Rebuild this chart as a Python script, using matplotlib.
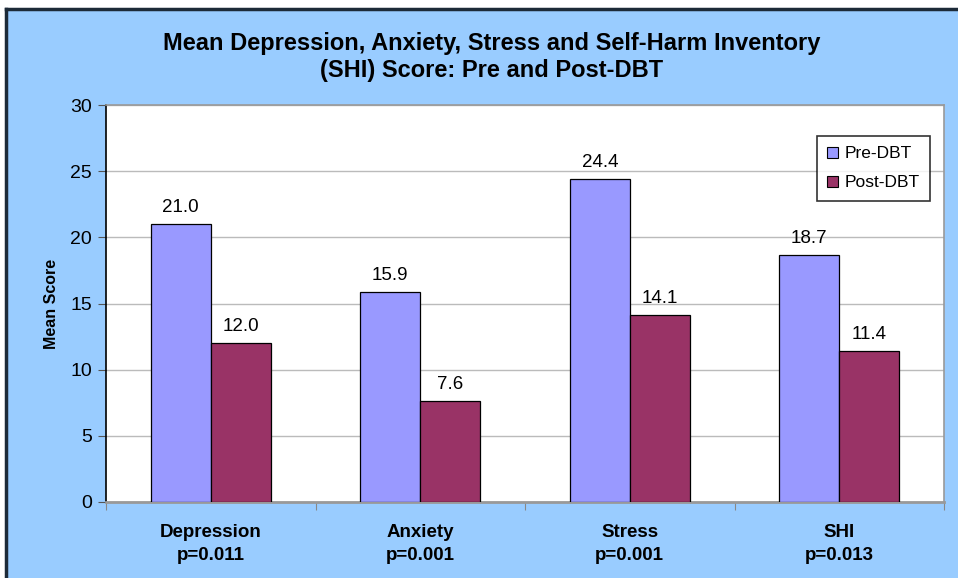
import numpy as np
import matplotlib.pyplot as plt
from matplotlib.patches import Rectangle

plt.rcParams['font.family'] = ['Liberation Sans', 'DejaVu Sans']

categories = ['Depression', 'Anxiety', 'Stress', 'SHI']
p_values = ['p=0.011', 'p=0.001', 'p=0.001', 'p=0.013']
pre_dbt = [21.0, 15.9, 24.4, 18.7]
post_dbt = [12.0, 7.6, 14.1, 11.4]

bg = '#99CCFF'
fig = plt.figure(figsize=(9.58, 5.78), dpi=100)
fig.patch.set_facecolor('white')
# blue panel with dark border at top/left
fig.patches.append(Rectangle((6 / 958, 0), 1, 1 - 9 / 578, transform=fig.transFigure,
                             facecolor=bg, edgecolor='none', zorder=-10))
fig.add_artist(plt.Line2D([5.5 / 958, 1], [1 - 8.5 / 578, 1 - 8.5 / 578], color='#1c2a38', lw=2.5, zorder=-5))
fig.add_artist(plt.Line2D([5.5 / 958, 5.5 / 958], [0, 1 - 8.5 / 578], color='#1c2a38', lw=2.5, zorder=-5))

ax = fig.add_axes([106 / 958, 1 - 502 / 578, (944 - 106) / 958, (502 - 105) / 578])
ax.set_facecolor('white')

x = np.arange(len(categories))
w = 0.286
b1 = ax.bar(x - w / 2, pre_dbt, w, color='#9999FF', edgecolor='black', lw=0.9, label='Pre-DBT', zorder=3)
b2 = ax.bar(x + w / 2, post_dbt, w, color='#993366', edgecolor='black', lw=0.9, label='Post-DBT', zorder=3)

for bars, vals in ((b1, pre_dbt), (b2, post_dbt)):
    for r, v in zip(bars, vals):
        ax.text(r.get_x() + r.get_width() / 2, v + 0.6, f'{v:.1f}', ha='center', va='bottom', fontsize=13.5)

ax.set_xlim(-0.5, len(categories) - 0.5)
ax.set_ylim(0, 30)
ax.set_yticks(range(0, 31, 5))
ax.tick_params(axis='y', labelsize=14, length=6, color='#555555', pad=4)
ax.yaxis.grid(True, color='#bbbbbb', lw=1, zorder=0)

ax.set_xticks(np.arange(-0.5, len(categories), 1))
ax.set_xticklabels([])
ax.tick_params(axis='x', length=6, color='#888888')
for i, (c, p) in enumerate(zip(categories, p_values)):
    ax.text(i, -1.65, c + '\n' + p, ha='center', va='top', fontsize=13.5, fontweight='bold',
            linespacing=1.45)

for s in ('top', 'right', 'bottom'):
    ax.spines[s].set_color('#999999')
    ax.spines[s].set_linewidth(1.2)
ax.spines['bottom'].set_linewidth(2)
ax.spines['left'].set_color('black')
ax.spines['left'].set_linewidth(1.2)

ax.set_ylabel('Mean Score', fontsize=11.5, fontweight='bold', labelpad=8)

fig.text(492 / 958, 1 - 57 / 578,
         'Mean Depression, Anxiety, Stress and Self-Harm Inventory\n(SHI) Score: Pre and Post-DBT',
         ha='center', va='center', fontsize=17, fontweight='bold', linespacing=1.25)

leg = ax.legend(loc='upper right', bbox_to_anchor=(930 / 958, 1 - 136 / 578), bbox_transform=fig.transFigure,
                fontsize=12.5, frameon=True, fancybox=False, edgecolor='black', handlelength=0.6,
                handleheight=0.6, handletextpad=0.4, labelspacing=0.8, borderpad=0.6, borderaxespad=0)
leg.get_frame().set_linewidth(1.2)
for h in leg.legend_handles:
    h.set_linewidth(0.8)

fig.savefig('out.png', dpi=100, facecolor=fig.get_facecolor())
